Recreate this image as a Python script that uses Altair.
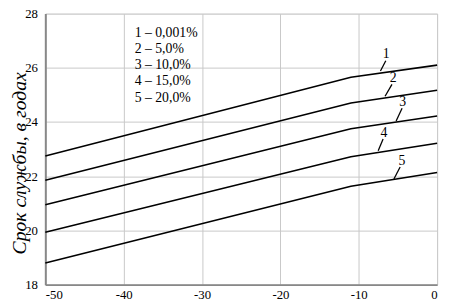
import altair as alt
import pandas as pd

# Data
x_pts = [-50, -11, 0]
series = {
    "1": [22.75, 25.65, 26.10],
    "2": [21.85, 24.70, 25.17],
    "3": [20.95, 23.75, 24.22],
    "4": [19.93, 22.72, 23.22],
    "5": [18.80, 21.63, 22.14],
}
legend_lines = ["1 – 0,001%", "2 – 5,0%", "3 – 10,0%", "4 – 15,0%", "5 – 20,0%"]
legend_y = [27.3, 26.7, 26.1, 25.5, 24.9]
legend_x = -38.6

label_names = ["1", "2", "3", "4", "5"]
label_x = [-6.5, -5.6, -4.4, -6.8, -4.5]
label_y = [26.5, 25.63, 24.74, 23.61, 22.56]
leader_x1 = [-7.23, -6.64, -5.23, -7.52, -5.51]
leader_y1 = [25.88, 24.95, 24.04, 22.94, 21.90]
leader_x2 = [-6.55, -5.76, -4.47, -6.89, -4.72]
leader_y2 = [26.26, 25.39, 24.51, 23.37, 22.34]

rows = []
for k, vals in series.items():
    for x, y in zip(x_pts, vals):
        rows.append({"s": k, "x": x, "y": y})
df = pd.DataFrame(rows)

FONT = "Liberation Serif"

xscale = alt.Scale(domain=[-50, 0], nice=False, zero=False)
yscale = alt.Scale(domain=[18, 28], nice=False, zero=False)

lines = alt.Chart(df).mark_line(color="black", strokeWidth=1.6).encode(
    x=alt.X("x:Q", scale=xscale,
            axis=alt.Axis(values=[-50, -40, -30, -20, -10, 0], title=None, ticks=False,
                          labelExpr="toString(datum.value)",
                          labelPadding=4, labelFont=FONT, labelFontSize=13,
                          labelColor="black", gridColor="#c8c8c8",
                          domainColor="#888888", domainWidth=2)),
    y=alt.Y("y:Q", scale=yscale,
            axis=alt.Axis(values=[18, 20, 22, 24, 26, 28], title="Срок службы, в годах",
                          ticks=False, labelPadding=8, labelFont=FONT, labelFontSize=13,
                          labelColor="black", gridColor="#c8c8c8",
                          domainColor="#888888", domainWidth=2,
                          titleFont=FONT, titleFontSize=20, titleFontStyle="italic",
                          titleFontWeight="normal", titleColor="black",
                          titleX=-20, titleY=152, titleAlign="center",
                          titleBaseline="alphabetic")),
    detail="s:N",
)

leg_df = pd.DataFrame({"t": legend_lines, "x": [legend_x] * 5, "y": legend_y})
leg = alt.Chart(leg_df).mark_text(align="left", baseline="middle", font=FONT,
                                  fontSize=14, color="black").encode(
    x=alt.X("x:Q", scale=xscale), y=alt.Y("y:Q", scale=yscale), text="t:N")

lab_df = pd.DataFrame({"t": label_names, "x": label_x, "y": label_y})
labs = alt.Chart(lab_df).mark_text(align="center", baseline="middle", font=FONT,
                                   fontSize=14, color="black").encode(
    x=alt.X("x:Q", scale=xscale), y=alt.Y("y:Q", scale=yscale), text="t:N")

ld_df = pd.DataFrame({"x": leader_x1, "y": leader_y1, "x2": leader_x2, "y2": leader_y2})
leaders = alt.Chart(ld_df).mark_rule(color="black", strokeWidth=1.3).encode(
    x=alt.X("x:Q", scale=xscale), y=alt.Y("y:Q", scale=yscale), x2="x2:Q", y2="y2:Q")

chart = alt.layer(lines, leg, labs, leaders).properties(
    width=399, height=276,
    autosize=alt.AutoSizeParams(type="none"),
    padding={"left": 38, "top": 3, "right": 6, "bottom": 17},
).configure_view(stroke="#999999", strokeWidth=2).configure(background="white")

chart.save("out.html", embed_options={"renderer": "svg", "actions": False})
